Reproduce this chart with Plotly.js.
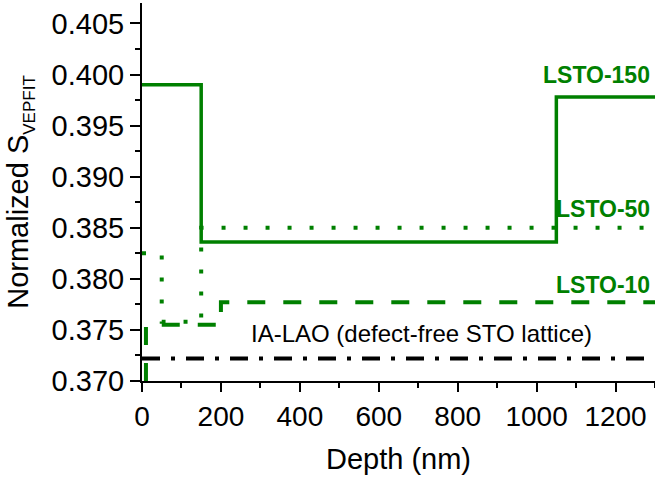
<!DOCTYPE html>
<html>
<head>
<meta charset="utf-8">
<script src="https://cdn.plot.ly/plotly-3.0.1.min.js"></script>
<style>
  html, body { margin: 0; padding: 0; background: #fff; }
  #chart { width: 655px; height: 478px; }
</style>
</head>
<body>
<div id="chart"></div>
<script>
// Depth (nm) step profiles of normalized S parameter (VEPFIT fit)
const lsto150X = [0, 150, 1050, 1300];
const lsto150Y = [0.3990, 0.3836, 0.3978, 0.3978];

const lsto50X = [0, 50, 150, 1300];
const lsto50Y = [0.3825, 0.3758, 0.3850, 0.3850];

const lsto10X = [10, 10, 200, 1300];
const lsto10Y = [0.3700, 0.3755, 0.3777, 0.3777];

const laoX = [0, 1300];
const laoY = [0.3722, 0.3722];

const xTicks = [0, 200, 400, 600, 800, 1000, 1200];
const yTicks = [0.370, 0.375, 0.380, 0.385, 0.390, 0.395, 0.400, 0.405];

const seriesLabels = ["LSTO-150", "LSTO-50", "LSTO-10"];
const laoLabel = "IA-LAO (defect-free STO lattice)";

const green = "#008000";
const FONT = "Liberation Sans, Arial, Helvetica, sans-serif";

const traces = [
  { x: laoX, y: laoY, mode: "lines", line: { color: "#000", width: 4, dash: "18px,11px,4px,11px" }, hoverinfo: "skip" },
  { x: lsto10X, y: lsto10Y, mode: "lines", line: { color: green, width: 4, dash: "18px,18px", shape: "hv" } },
  { x: lsto50X, y: lsto50Y, mode: "lines", line: { color: green, width: 4, dash: "4px,18px", shape: "hv" } },
  { x: lsto150X, y: lsto150Y, mode: "lines", line: { color: green, width: 3.5, shape: "hv" } }
];

const layout = {
  width: 655,
  height: 478,
  margin: { l: 142, r: 0, t: 3, b: 97 },
  paper_bgcolor: "#fff",
  plot_bgcolor: "#fff",
  showlegend: false,
  font: { family: FONT, color: "#000" },
  xaxis: {
    range: [0, 1300],
    tickvals: xTicks,
    ticktext: xTicks.map(String),
    ticks: "outside", ticklen: 9, tickwidth: 2, tickcolor: "#000",
    minor: { ticks: "outside", ticklen: 5, tickwidth: 2, tickcolor: "#000", dtick: 100, tick0: 0, showgrid: false },
    showline: true, linewidth: 2, linecolor: "#000",
    showgrid: false, zeroline: false,
    tickfont: { size: 28, family: FONT, color: "#000" },
    title: { text: "Depth (nm)", font: { size: 29, family: FONT, color: "#000" }, standoff: 18 },
    fixedrange: true
  },
  yaxis: {
    range: [0.370, 0.407],
    tickvals: yTicks,
    ticktext: yTicks.map(v => v.toFixed(3)),
    ticks: "outside", ticklen: 10, tickwidth: 2, tickcolor: "#000",
    minor: { ticks: "outside", ticklen: 5, tickwidth: 2, tickcolor: "#000", dtick: 0.0025, tick0: 0.370, showgrid: false },
    showline: true, linewidth: 2, linecolor: "#000",
    showgrid: false, zeroline: false,
    tickfont: { size: 29, family: FONT, color: "#000" },
    title: { text: "Normalized S<sub><span style=\"font-size:17px\">VEPFIT</span></sub>", font: { size: 29, family: FONT, color: "#000" }, standoff: 14 },
    fixedrange: true
  },
  annotations: [
    { x: 1292, y: 0.4000, xref: "x", yref: "y", text: seriesLabels[0], showarrow: false, xanchor: "right", yanchor: "middle",
      font: { size: 23, family: FONT, color: green, weight: "bold" } },
    { x: 1292, y: 0.3868, xref: "x", yref: "y", text: seriesLabels[1], showarrow: false, xanchor: "right", yanchor: "middle",
      font: { size: 23, family: FONT, color: green, weight: "bold" } },
    { x: 1292, y: 0.37936, xref: "x", yref: "y", text: seriesLabels[2], showarrow: false, xanchor: "right", yanchor: "middle",
      font: { size: 23, family: FONT, color: green, weight: "bold" } },
    { x: 270, y: 0.37465, xref: "x", yref: "y", text: laoLabel, showarrow: false, xanchor: "left", yanchor: "middle",
      font: { size: 24, family: FONT, color: "#000" } }
  ]
};

Plotly.newPlot("chart", traces, layout, { staticPlot: true, displayModeBar: false });
</script>
</body>
</html>
